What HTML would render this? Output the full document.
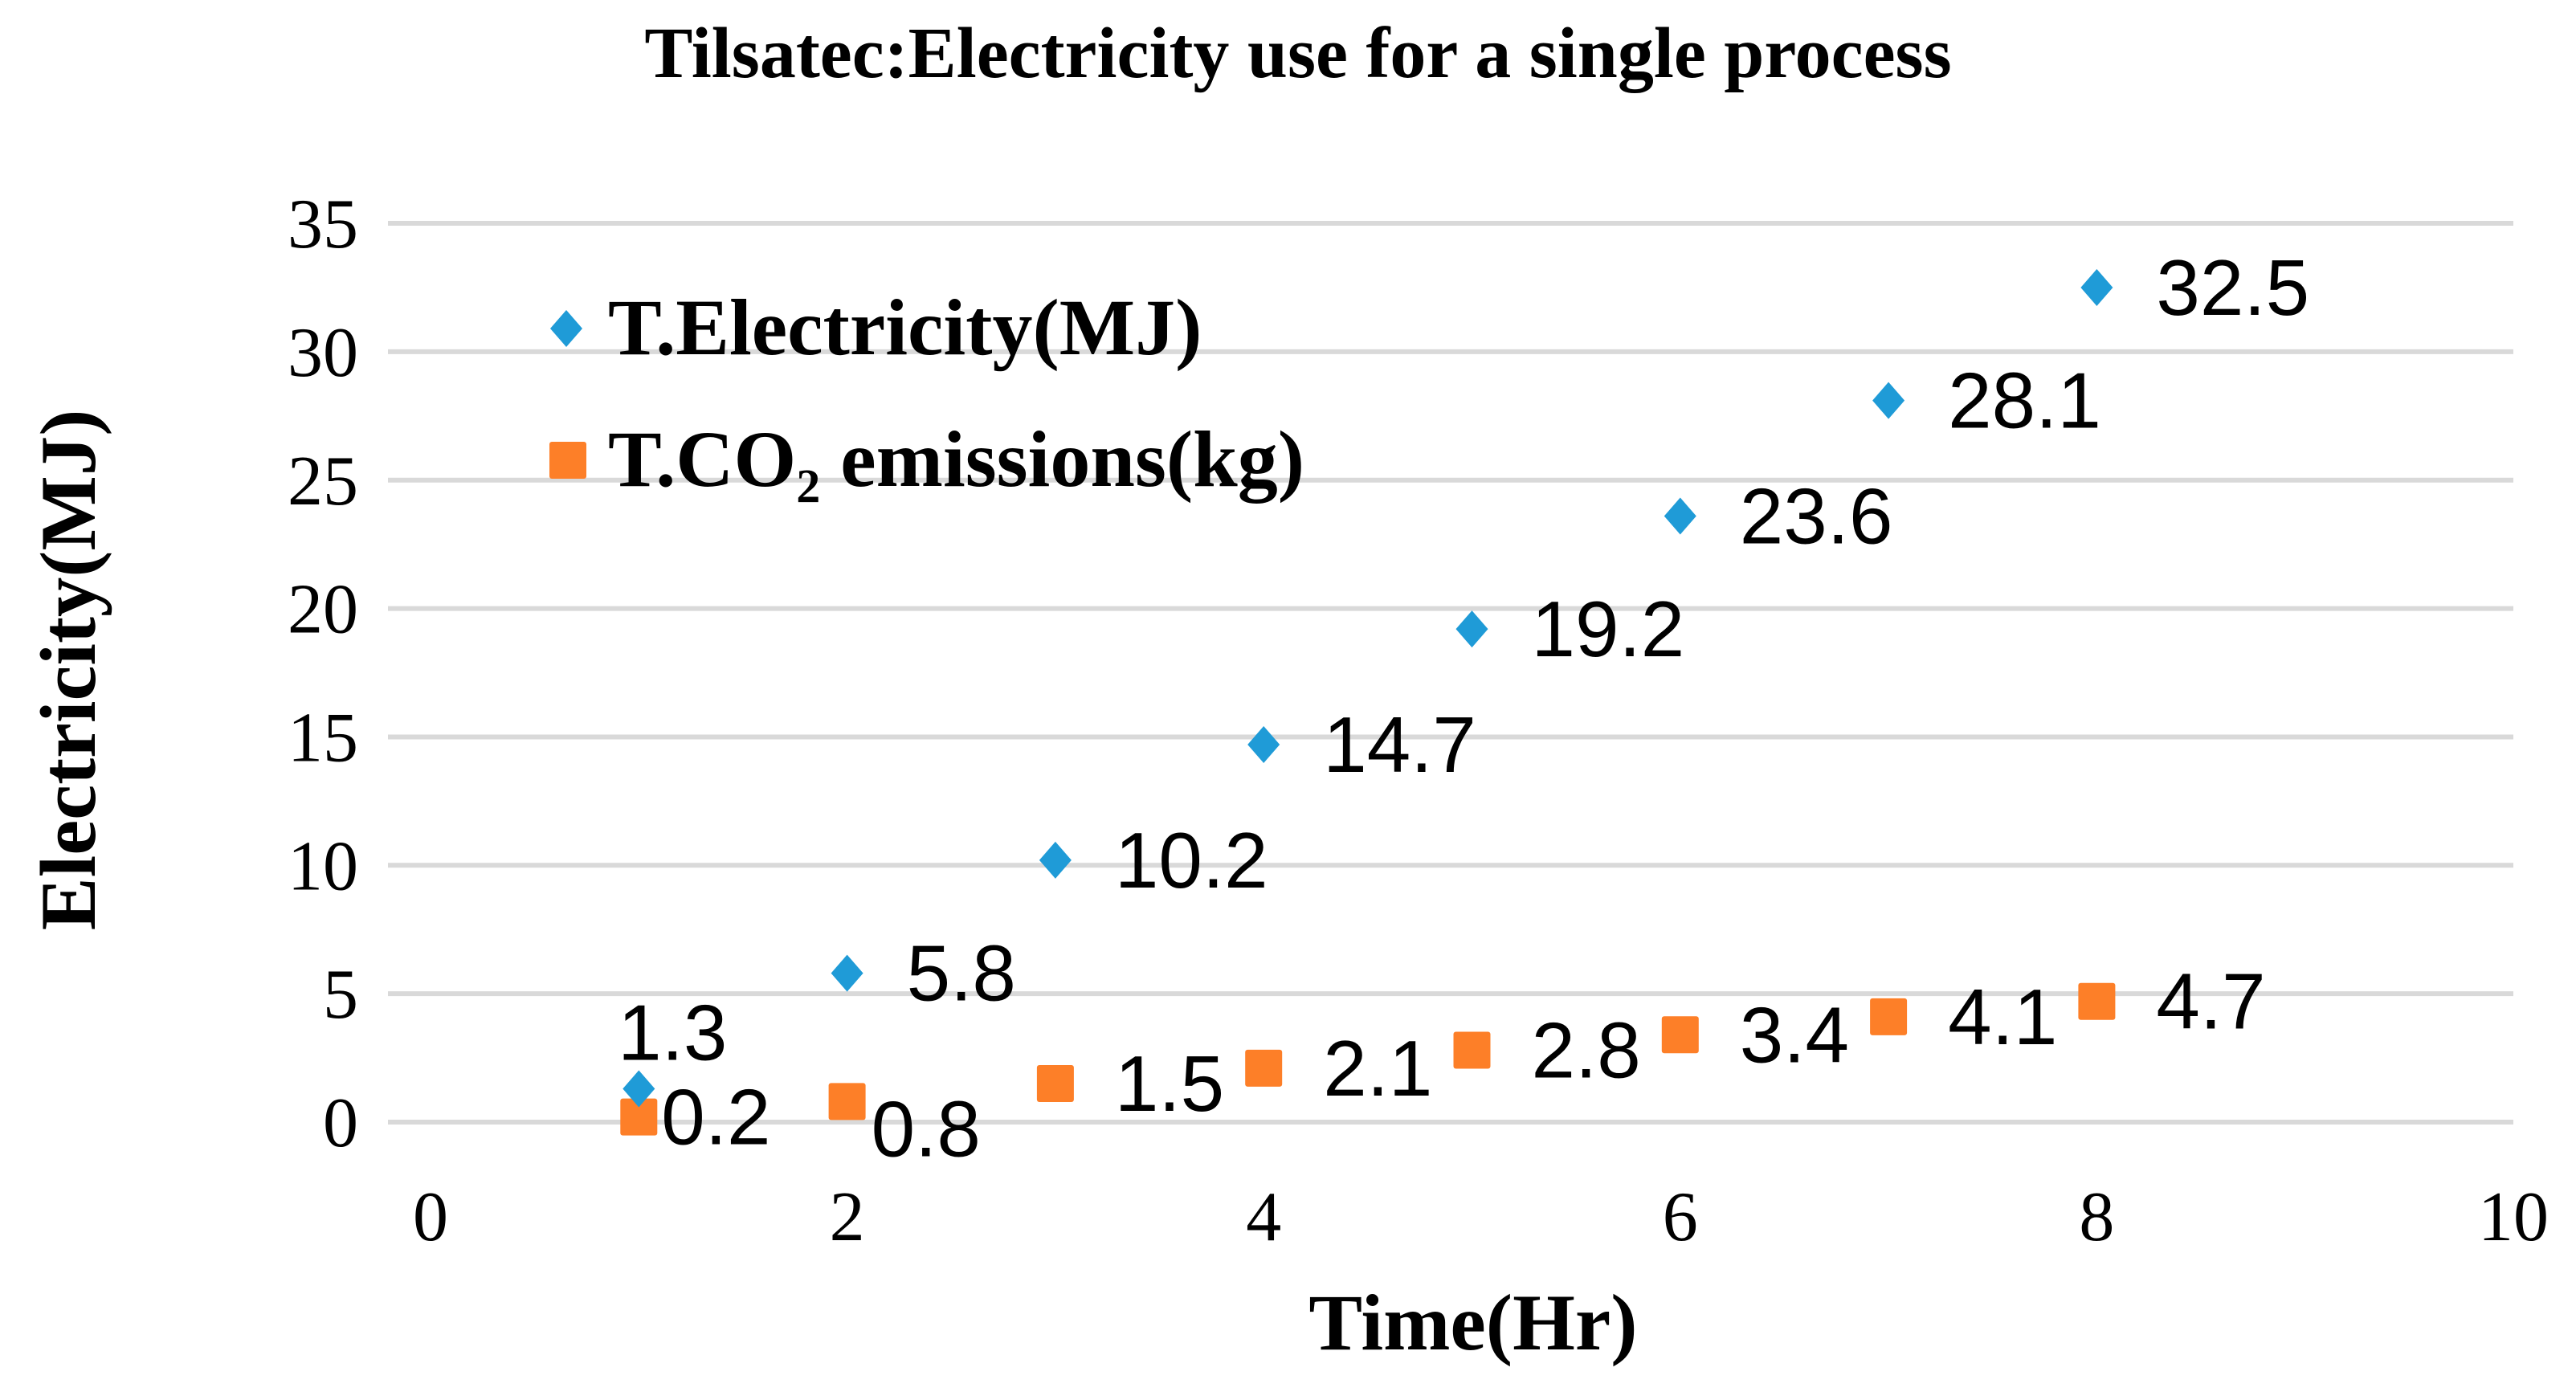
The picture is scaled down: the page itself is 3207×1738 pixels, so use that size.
<!DOCTYPE html>
<html><head><meta charset="utf-8">
<style>
html,body{margin:0;padding:0;background:#fff;}
svg{display:block;}
</style></head>
<body>
<svg id="chart" width="3207" height="1738" viewBox="0 0 3207 1738" xmlns="http://www.w3.org/2000/svg">
<rect width="3207" height="1738" fill="#fff"/>
<text x="1616" y="96" text-anchor="middle" font-family="Liberation Serif, serif" font-weight="bold" font-size="90">Tilsatec:Electricity use for a single process</text>
<g id="grid"></g>
<g id="yticks"></g>
<g id="xticks"></g>
<text x="1834" y="1680" text-anchor="middle" font-family="Liberation Serif, serif" font-weight="bold" font-size="100">Time(Hr)</text>
<text transform="translate(118,834) rotate(-90)" text-anchor="middle" font-family="Liberation Serif, serif" font-weight="bold" font-size="99">Electricity(MJ)</text>
<g id="marks"></g>
<g id="labels"></g>
<g>
  <polygon points="705,386 725,409 705,432 685,409" fill="#1f9bd7"/>
  <text x="757" y="441" font-family="Liberation Serif, serif" font-weight="bold" font-size="100">T.Electricity(MJ)</text>
  <rect x="684" y="550" width="46" height="46" rx="3" fill="#fd7f28"/>
  <text x="757" y="605" font-family="Liberation Serif, serif" font-weight="bold" font-size="100">T.CO₂ emissions(kg)</text>
</g>
</svg>
<script>
const xValues = [1,2,3,4,5,6,7,8];
const electricity = [1.3,5.8,10.2,14.7,19.2,23.6,28.1,32.5];
const co2 = [0.2,0.8,1.5,2.1,2.8,3.4,4.1,4.7];
const yTicks = [0,5,10,15,20,25,30,35];
const xTicks = [0,2,4,6,8,10];

const NS = 'http://www.w3.org/2000/svg';
function X(v){ return 536 + v*259.3; }
function Y(v){ return 1397 - v*31.97; }
function mk(tag, attrs, parent){
  const e = document.createElementNS(NS, tag);
  for (const k in attrs) e.setAttribute(k, attrs[k]);
  parent.appendChild(e);
  return e;
}
const grid = document.getElementById('grid');
const yt = document.getElementById('yticks');
const xt = document.getElementById('xticks');
const marks = document.getElementById('marks');
const labels = document.getElementById('labels');

yTicks.forEach(t => {
  const l = mk('line', {x1:483, x2:3129, y1:Y(t), y2:Y(t), stroke:'#d9d9d9', 'stroke-width':6}, grid);
  
  
  const tx = mk('text', {x:446, y:Y(t)+30, 'text-anchor':'end', 'font-family':'Liberation Serif, serif', 'font-size':88}, yt);
  tx.textContent = t;
  
  
});
xTicks.forEach(t => {
  const tx = mk('text', {x:X(t), y:1544, 'text-anchor':'middle', 'font-family':'Liberation Serif, serif', 'font-size':88}, xt);
  tx.textContent = t;
  
  
});

xValues.forEach((xv, i) => {
  const cx = X(xv), cy = Y(co2[i]);
  const r = mk('rect', {x:cx-23, y:cy-23, width:46, height:46, rx:3, fill:'#fd7f28'}, marks);
  
  
  let lx = cx + 74, ly = cy + 34;
  if (i === 0) { lx = cx + 28; }
  if (i === 1) { lx = cx + 30; ly = cy + 68; }
  const t = mk('text', {x:lx, y:ly, 'font-family':'Liberation Sans, sans-serif', 'font-size':98}, labels);
  t.textContent = co2[i].toFixed(1);
  
  
});
xValues.forEach((xv, i) => {
  const cx = X(xv), cy = Y(electricity[i]);
  const p = mk('polygon', {points:`${cx},${cy-23} ${cx+20},${cy} ${cx},${cy+23} ${cx-20},${cy}`, fill:'#1f9bd7'}, marks);
  
  
  let lx = cx + 74, ly = cy + 34, anchor = 'start';
  if (i === 0) { lx = cx + 42; ly = cy - 36; anchor = 'middle'; }
  const t = mk('text', {x:lx, y:ly, 'text-anchor':anchor, 'font-family':'Liberation Sans, sans-serif', 'font-size':98}, labels);
  t.textContent = electricity[i].toFixed(1);
  
  
});
</script>
</body></html>
